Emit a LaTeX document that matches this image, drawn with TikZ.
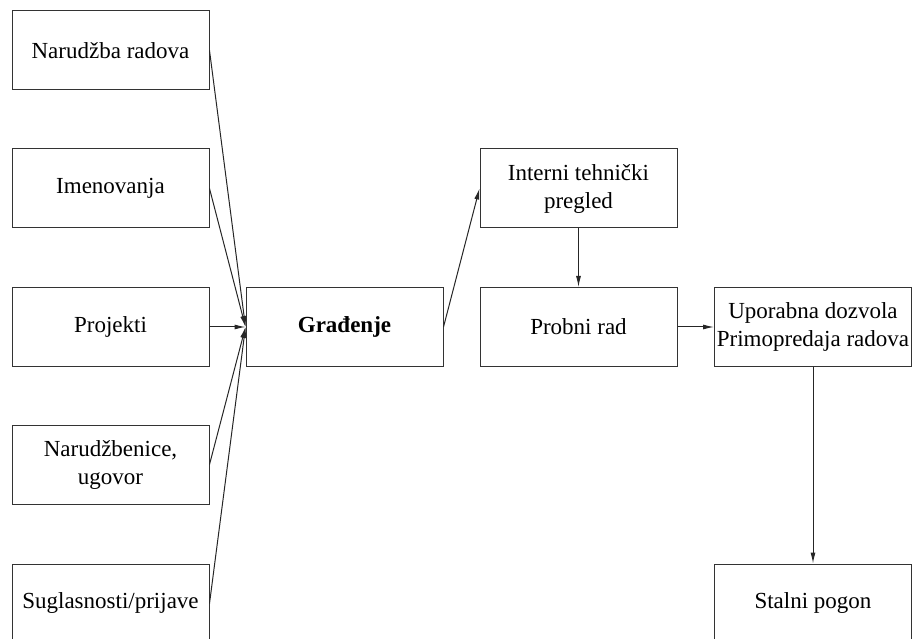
\documentclass[tikz,border=0pt]{standalone}
\usepackage{fontspec}
\setmainfont{Liberation Serif}
\usetikzlibrary{arrows.meta}
\begin{document}
\begin{tikzpicture}[x=1pt,y=-1pt,
  box/.style={draw=black!80, line width=1pt, minimum width=197pt, minimum height=79pt,
    inner sep=0pt, align=center, font=\fontsize{23}{28}\selectfont},
  conn/.style={draw=black!85, line width=1pt, -{Latex[length=11pt,width=5pt]}}]
\useasboundingbox (0,0) rectangle (914,639);
\node[box] (nar) at (110.5,50.5) {Narudžba radova};
\node[box] (ime) at (110.5,188.5) {Imenovanja};
\node[box] (pro) at (110.5,327) {Projekti};
\node[box] (ugo) at (110.5,464.5) {Narudžbenice,\\ugovor};
\node[box] (sug) at (110.5,603.5) {Suglasnosti/prijave};
\node[box] (gra) at (344.5,327) {\textbf{Građenje}};
\node[box] (int) at (578.5,188.5) {Interni tehnički\\pregled};
\node[box] (prb) at (578.5,327) {Probni rad};
\node[box] (upo) at (813,327) {Uporabna dozvola\\Primopredaja radova};
\node[box] (sta) at (813,603.5) {Stalni pogon};
\draw[conn] (nar.east) -- (gra.west);
\draw[conn] (ime.east) -- (gra.west);
\draw[conn] (pro.east) -- (gra.west);
\draw[conn] (ugo.east) -- (gra.west);
\draw[conn] (sug.east) -- (gra.west);
\draw[conn] (gra.east) -- (int.west);
\draw[conn] (int.south) -- (prb.north);
\draw[conn] (prb.east) -- (upo.west);
\draw[conn] (upo.south) -- (sta.north);
\end{tikzpicture}
\end{document}
